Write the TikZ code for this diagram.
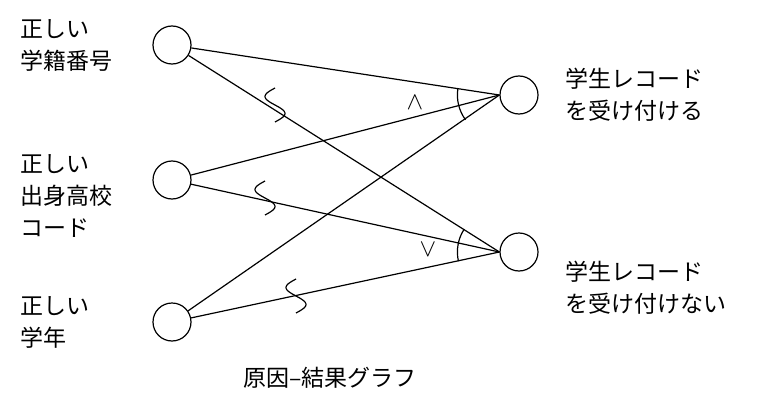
\documentclass[tikz,border=0pt]{standalone}
\usepackage{fontspec}
\setmainfont{Noto Sans CJK JP}
\begin{document}
\begin{tikzpicture}[x=1pt,y=1pt,
  c/.style={circle,draw,line width=1.2pt,minimum size=38pt,inner sep=0pt},
  lab/.style={font=\fontsize{23}{32}\selectfont,align=left,inner sep=0pt},
  l/.style={line width=1.2pt},
  wave/.style={line width=1.2pt}]
\useasboundingbox (0,0) rectangle (760,408);
\node[c] (a) at (172,363) {};
\node[c] (b) at (172,228) {};
\node[c] (d) at (172,86) {};
\node[c] (r) at (519,313) {};
\node[c] (s) at (519,156) {};
\node[lab,anchor=west] (ta) at (20,363) {正しい\\学籍番号};
\node[lab,anchor=west] (tb) at (20,212) {正しい\\出身高校\\コード};
\node[lab,anchor=west] (td) at (20,86) {正しい\\学年};
\node[lab,anchor=west] (tr) at (565,313) {学生レコード\\を受け付ける};
\node[lab,anchor=west] (ts) at (565,120) {学生レコード\\を受け付けない};
\node[lab] (cap) at (330,30) {原因–結果グラフ};
\foreach \n in {a,b,d}{
  \draw[l] (\n) -- (r.west);
  \draw[l] (\n) -- (s.west);
}
\foreach \p in {(275,303),(265,210),(296,112)}{
  \draw[wave,shift={\p}] plot[domain=-17:17,smooth,samples=30] ({-10*sin(\x*360/34)},\x);
}
\draw[l] ([shift=(171.7:42)]r.west) arc (171.7:216.2:42);
\draw[l] ([shift=(146.9:42)]s.west) arc (146.9:192.7:42);
\node[font=\fontsize{30}{30}\selectfont] (and) at (415,305) {$\wedge$};
\node[font=\fontsize{30}{30}\selectfont] (or) at (428,158) {$\vee$};
\end{tikzpicture}
\end{document}
